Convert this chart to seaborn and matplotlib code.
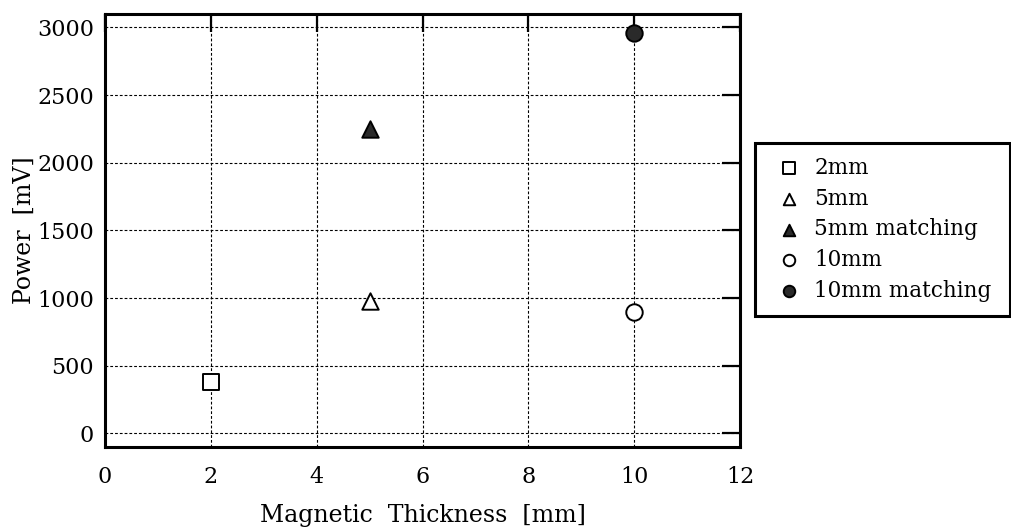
import matplotlib
matplotlib.use("Agg")
import matplotlib.pyplot as plt
import seaborn as sns
import pandas as pd

# Measured output power for each magnet thickness
series_names = ["2mm", "5mm", "5mm matching", "10mm", "10mm matching"]
thickness_mm = [2, 5, 5, 10, 10]
power_mv = [380, 980, 2250, 900, 2960]

x_ticks = [0, 2, 4, 6, 8, 10, 12]
y_ticks = [0, 500, 1000, 1500, 2000, 2500, 3000]

markers = ["s", "^", "^", "o", "o"]
filled = [False, False, True, False, True]

df = pd.DataFrame({"series": series_names, "thickness": thickness_mm, "power": power_mv})

sns.set_theme(style="white")
plt.rcParams["font.family"] = ["DejaVu Serif"]
plt.rcParams.update({
    "text.color": "black",
    "axes.labelcolor": "black",
    "xtick.color": "black",
    "ytick.color": "black",
})

fig = plt.figure(figsize=(10.11, 5.32), dpi=100)
ax = fig.add_axes([0.1039, 0.160, 0.6281, 0.814])

for i, row in df.iterrows():
    face = "#2a2a2a" if filled[i] else "white"
    sns.scatterplot(
        x=[row["thickness"]], y=[row["power"]], ax=ax,
        marker=markers[i], s=140, color=face, edgecolor="black",
        linewidth=1.4, label=row["series"], zorder=5,
    )

ax.set_xlim(0, 12)
ax.set_ylim(-100, 3100)
ax.set_xticks(x_ticks)
ax.set_yticks(y_ticks)
ax.grid(True, color="black", linestyle=(0, (2.5, 1.8)), linewidth=0.8)
ax.set_axisbelow(True)

for sp in ax.spines.values():
    sp.set_visible(True)
    sp.set_color("black")
    sp.set_linewidth(2.2)

ax.tick_params(axis="both", direction="in", length=13, width=1.6, color="black",
               top=True, right=True, labelsize=16, labelcolor="black")
ax.tick_params(axis="x", pad=14)
ax.tick_params(axis="y", pad=8)

ax.set_xlabel("Magnetic  Thickness  [mm]", fontsize=17, color="black", labelpad=11)
ax.set_ylabel("Power  [mV]", fontsize=17, color="black", labelpad=1)

leg = ax.legend(
    loc="upper left", bbox_to_anchor=(0.747, 0.731, 0.252, 0.0),
    bbox_transform=fig.transFigure, mode="expand",
    frameon=True, fancybox=False, edgecolor="black", framealpha=1.0,
    fontsize=15.5, markerscale=0.7, labelspacing=0.4, handletextpad=0.3,
    borderpad=0.65, handlelength=1.8, borderaxespad=0.0,
)
leg.get_frame().set_linewidth(2.2)
leg.get_frame().set_facecolor("white")

fig.savefig("out.png", dpi=100, facecolor="white")
